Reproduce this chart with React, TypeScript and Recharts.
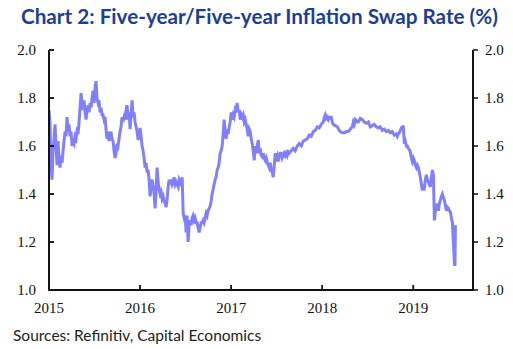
import { LineChart, Line, XAxis, YAxis } from "recharts";

const title = "Chart 2: Five-year/Five-year Inflation Swap Rate (%)";
const source = "Sources: Refinitiv, Capital Economics";

const yearTicks = [2015, 2016, 2017, 2018, 2019];
const rateTicks = [1.0, 1.2, 1.4, 1.6, 1.8, 2.0];
const xDomain = [2015, 2019.655];
const yDomain = [1, 2];

// decimal years
const dates = [
  2015.0, 2015.011, 2015.022, 2015.033, 2015.044, 2015.055, 2015.066, 2015.077, 2015.088, 2015.099,
  2015.11, 2015.121, 2015.132, 2015.143, 2015.154, 2015.165, 2015.176, 2015.187, 2015.198, 2015.209,
  2015.22, 2015.231, 2015.242, 2015.253, 2015.264, 2015.275, 2015.286, 2015.297, 2015.308, 2015.319,
  2015.33, 2015.341, 2015.352, 2015.363, 2015.374, 2015.385, 2015.396, 2015.407, 2015.418, 2015.429,
  2015.44, 2015.451, 2015.462, 2015.473, 2015.484, 2015.495, 2015.505, 2015.516, 2015.527, 2015.538,
  2015.549, 2015.56, 2015.571, 2015.582, 2015.593, 2015.604, 2015.615, 2015.626, 2015.637, 2015.648,
  2015.659, 2015.67, 2015.681, 2015.692, 2015.703, 2015.714, 2015.725, 2015.736, 2015.747, 2015.758,
  2015.769, 2015.78, 2015.791, 2015.802, 2015.813, 2015.824, 2015.835, 2015.846, 2015.857, 2015.868,
  2015.879, 2015.89, 2015.901, 2015.912, 2015.923, 2015.934, 2015.945, 2015.956, 2015.967, 2015.978,
  2015.989, 2016.0, 2016.011, 2016.022, 2016.033, 2016.044, 2016.055, 2016.066, 2016.077, 2016.088,
  2016.099, 2016.11, 2016.121, 2016.132, 2016.143, 2016.154, 2016.165, 2016.176, 2016.187, 2016.198,
  2016.209, 2016.22, 2016.231, 2016.242, 2016.253, 2016.264, 2016.275, 2016.286, 2016.297, 2016.308,
  2016.319, 2016.33, 2016.341, 2016.352, 2016.363, 2016.374, 2016.385, 2016.396, 2016.407, 2016.418,
  2016.429, 2016.44, 2016.451, 2016.462, 2016.473, 2016.484, 2016.495, 2016.505, 2016.516, 2016.527,
  2016.538, 2016.549, 2016.56, 2016.571, 2016.582, 2016.593, 2016.604, 2016.615, 2016.626, 2016.637,
  2016.648, 2016.659, 2016.67, 2016.681, 2016.692, 2016.703, 2016.714, 2016.725, 2016.736, 2016.747,
  2016.758, 2016.769, 2016.78, 2016.791, 2016.802, 2016.813, 2016.824, 2016.835, 2016.846, 2016.857,
  2016.868, 2016.879, 2016.89, 2016.901, 2016.912, 2016.923, 2016.934, 2016.945, 2016.956, 2016.967,
  2016.978, 2016.989, 2017.0, 2017.011, 2017.022, 2017.033, 2017.044, 2017.055, 2017.066, 2017.077,
  2017.088, 2017.099, 2017.11, 2017.121, 2017.132, 2017.143, 2017.154, 2017.165, 2017.176, 2017.187,
  2017.198, 2017.209, 2017.22, 2017.231, 2017.242, 2017.253, 2017.264, 2017.275, 2017.286, 2017.297,
  2017.308, 2017.319, 2017.33, 2017.341, 2017.352, 2017.363, 2017.374, 2017.385, 2017.396, 2017.407,
  2017.418, 2017.429, 2017.44, 2017.451, 2017.462, 2017.473, 2017.484, 2017.495, 2017.505, 2017.516,
  2017.527, 2017.538, 2017.549, 2017.56, 2017.571, 2017.582, 2017.593, 2017.604, 2017.615, 2017.626,
  2017.637, 2017.659, 2017.681, 2017.703, 2017.725, 2017.747, 2017.769, 2017.791, 2017.813, 2017.835,
  2017.857, 2017.879, 2017.901, 2017.923, 2017.945, 2017.967, 2017.989, 2018.011, 2018.022, 2018.033,
  2018.044, 2018.055, 2018.066, 2018.077, 2018.099, 2018.11, 2018.121, 2018.143, 2018.165, 2018.187,
  2018.198, 2018.22, 2018.242, 2018.264, 2018.286, 2018.308, 2018.33, 2018.341, 2018.352, 2018.363,
  2018.385, 2018.396, 2018.418, 2018.44, 2018.462, 2018.484, 2018.505, 2018.527, 2018.549, 2018.571,
  2018.593, 2018.615, 2018.637, 2018.659, 2018.681, 2018.703, 2018.725, 2018.747, 2018.769, 2018.791,
  2018.813, 2018.824, 2018.835, 2018.846, 2018.857, 2018.868, 2018.879, 2018.89, 2018.901, 2018.912,
  2018.923, 2018.934, 2018.945, 2018.956, 2018.967, 2018.978, 2018.989, 2019.0, 2019.011, 2019.022,
  2019.033, 2019.044, 2019.055, 2019.066, 2019.077, 2019.088, 2019.099, 2019.11, 2019.121, 2019.132,
  2019.143, 2019.154, 2019.165, 2019.176, 2019.187, 2019.198, 2019.209, 2019.22, 2019.231, 2019.242,
  2019.253, 2019.264, 2019.275, 2019.286, 2019.297, 2019.308, 2019.319, 2019.33, 2019.341, 2019.352,
  2019.363, 2019.374, 2019.385, 2019.396, 2019.407, 2019.418, 2019.429, 2019.44, 2019.451, 2019.457,
  2019.462,
];

// 5y5y inflation swap rate, %
const rates = [
  1.75, 1.7, 1.52, 1.46, 1.58, 1.63, 1.69, 1.6, 1.52, 1.62,
  1.55, 1.51, 1.56, 1.53, 1.58, 1.62, 1.66, 1.64, 1.72, 1.66,
  1.69, 1.64, 1.66, 1.6, 1.62, 1.61, 1.64, 1.63, 1.66, 1.65,
  1.7, 1.76, 1.82, 1.78, 1.75, 1.79, 1.74, 1.71, 1.75, 1.77,
  1.74, 1.78, 1.76, 1.8, 1.83, 1.78, 1.84, 1.87, 1.8, 1.78,
  1.79, 1.74, 1.76, 1.73, 1.73, 1.71, 1.72, 1.67, 1.63, 1.66,
  1.62, 1.64, 1.66, 1.63, 1.62, 1.58, 1.55, 1.57, 1.61, 1.6,
  1.63, 1.66, 1.68, 1.72, 1.7, 1.72, 1.71, 1.75, 1.77, 1.71,
  1.74, 1.67, 1.73, 1.79, 1.72, 1.74, 1.7, 1.68, 1.66, 1.625,
  1.65, 1.675, 1.64, 1.6, 1.58, 1.55, 1.51, 1.53, 1.49, 1.5,
  1.46, 1.39, 1.44, 1.46, 1.43, 1.4, 1.34, 1.42, 1.51, 1.45,
  1.42, 1.4, 1.41, 1.38, 1.39, 1.37, 1.36, 1.345, 1.38, 1.43,
  1.46, 1.44, 1.46, 1.44, 1.45, 1.47, 1.44, 1.45, 1.44, 1.43,
  1.46, 1.45, 1.44, 1.47, 1.32, 1.3, 1.31, 1.24, 1.31, 1.2,
  1.27, 1.29, 1.27, 1.3, 1.31, 1.29, 1.3, 1.28, 1.28, 1.26,
  1.24, 1.26, 1.28, 1.28, 1.29, 1.28, 1.3, 1.32, 1.31, 1.33,
  1.34, 1.35, 1.37, 1.4, 1.42, 1.44, 1.46, 1.47, 1.5, 1.51,
  1.53, 1.57, 1.58, 1.6, 1.65, 1.71, 1.66, 1.63, 1.67, 1.65,
  1.68, 1.7, 1.74, 1.71, 1.73, 1.72, 1.75, 1.74, 1.78, 1.74,
  1.75, 1.71, 1.73, 1.72, 1.73, 1.7, 1.71, 1.69, 1.67, 1.64,
  1.67, 1.66, 1.63, 1.61, 1.58, 1.54, 1.6, 1.57, 1.6, 1.625,
  1.57, 1.59, 1.56, 1.555, 1.57, 1.55, 1.54, 1.55, 1.53, 1.52,
  1.51, 1.53, 1.5, 1.49, 1.47, 1.52, 1.57, 1.55, 1.56, 1.535,
  1.56, 1.57, 1.57, 1.55, 1.56, 1.57, 1.56, 1.57, 1.56, 1.575,
  1.57, 1.58, 1.59, 1.58, 1.6, 1.61, 1.6, 1.62, 1.625, 1.63,
  1.645, 1.64, 1.66, 1.665, 1.68, 1.675, 1.69, 1.7, 1.72, 1.73,
  1.715, 1.72, 1.71, 1.72, 1.72, 1.7, 1.69, 1.685, 1.68, 1.665,
  1.66, 1.655, 1.655, 1.66, 1.66, 1.67, 1.68, 1.7, 1.69, 1.71,
  1.7, 1.7, 1.715, 1.71, 1.7, 1.695, 1.7, 1.68, 1.685, 1.69,
  1.68, 1.675, 1.68, 1.665, 1.67, 1.66, 1.665, 1.655, 1.66, 1.645,
  1.65, 1.64, 1.65, 1.655, 1.665, 1.675, 1.68, 1.68, 1.61, 1.62,
  1.6, 1.6, 1.59, 1.585, 1.575, 1.55, 1.535, 1.55, 1.54, 1.52,
  1.51, 1.52, 1.51, 1.49, 1.47, 1.44, 1.415, 1.43, 1.425, 1.46,
  1.48, 1.46, 1.45, 1.44, 1.43, 1.47, 1.5, 1.48, 1.29, 1.33,
  1.345, 1.36, 1.33, 1.36, 1.375, 1.39, 1.4, 1.385, 1.375, 1.35,
  1.33, 1.345, 1.34, 1.33, 1.325, 1.3, 1.28, 1.195, 1.11, 1.1,
  1.27,
];

const data = dates.map((t, i) => ({ t, rate: rates[i] }));

// plot box, same numbers as the chart margins / axis sizes below
const W = 513;
const H = 349;
const plot = { left: 49, top: 50, right: W - 40, bottom: H - 59 };
const px = (t: number) => plot.left + ((t - xDomain[0]) / (xDomain[1] - xDomain[0])) * (plot.right - plot.left);
const py = (v: number) => plot.bottom - ((v - yDomain[0]) / (yDomain[1] - yDomain[0])) * (plot.bottom - plot.top);

const axisColor = "#141414";
const tickStyle = { fontFamily: "Liberation Serif", fontSize: 15, fill: "#111" };
const fmt = (v: number) => v.toFixed(1);

const App = () => {
  return (
    <div style={{ position: "absolute", left: 0, top: 0, width: W, height: H, background: "#fff" }}>
      <div
        style={{
          position: "absolute",
          left: 21,
          top: 4,
          fontFamily: "Lato",
          fontWeight: 700,
          fontSize: 20.7,
          color: "#1b3f94",
          whiteSpace: "nowrap",
        }}
      >
        {title}
      </div>
      <div
        style={{
          position: "absolute",
          left: 13,
          top: 326,
          fontFamily: "Lato",
          fontSize: 15.5,
          color: "#222",
          whiteSpace: "nowrap",
        }}
      >
        {source}
      </div>
      <div style={{ position: "absolute", left: 0, top: 0 }}>
        <LineChart width={W} height={H} data={data} margin={{ top: plot.top, right: 0, bottom: 0, left: 0 }}>
          <XAxis
            dataKey="t"
            type="number"
            domain={xDomain}
            ticks={yearTicks}
            allowDataOverflow
            height={H - plot.bottom}
            tickSize={-5}
            tickMargin={17}
            stroke={axisColor}
            tick={tickStyle}
            axisLine={{ stroke: axisColor, strokeWidth: 2 }}
            tickLine={{ stroke: axisColor, strokeWidth: 1.5 }}
            interval={0}
          />
          <YAxis
            yAxisId="left"
            orientation="left"
            type="number"
            domain={yDomain}
            allowDataOverflow
            ticks={rateTicks}
            tickFormatter={fmt}
            width={plot.left}
            tickSize={-5}
            tickMargin={18}
            stroke={axisColor}
            tick={tickStyle}
            axisLine={{ stroke: axisColor, strokeWidth: 2 }}
            tickLine={{ stroke: axisColor, strokeWidth: 1.5 }}
            interval={0}
          />
          <YAxis
            yAxisId="right"
            orientation="right"
            type="number"
            domain={yDomain}
            allowDataOverflow
            ticks={rateTicks}
            tickFormatter={fmt}
            width={W - plot.right}
            tickSize={5}
            tickMargin={7}
            stroke={axisColor}
            tick={tickStyle}
            axisLine={{ stroke: axisColor, strokeWidth: 2 }}
            tickLine={{ stroke: axisColor, strokeWidth: 1.5 }}
            interval={0}
          />
          <Line
            yAxisId="left"
            dataKey="rate"
            type="linear"
            stroke="#8080ff"
            strokeWidth={3}
            dot={false}
            isAnimationActive={false}
          />
        </LineChart>
      </div>
      {/* left and bottom frame drawn as borders */}
      <div
        style={{
          position: "absolute",
          left: plot.left - 1,
          top: plot.top,
          width: plot.right - plot.left,
          height: plot.bottom - plot.top - 1,
          borderLeft: `2px solid ${axisColor}`,
          borderBottom: `2px solid ${axisColor}`,
          zIndex: 5,
          pointerEvents: "none",
        }}
      />
      <svg width={W} height={H} style={{ position: "absolute", left: 0, top: 0, zIndex: 6, pointerEvents: "none" }}>
        {rateTicks.map((v) => (
          <rect key={`yl-${v}`} x={plot.left} y={py(v) - 0.75} width={5} height={1.5} fill={axisColor} />
        ))}
        {yearTicks.slice(1).map((t) => (
          <rect key={`xt-${t}`} x={px(t) - 0.75} y={plot.bottom - 5} width={1.5} height={5} fill={axisColor} />
        ))}
      </svg>
    </div>
  );
};

export default App;
